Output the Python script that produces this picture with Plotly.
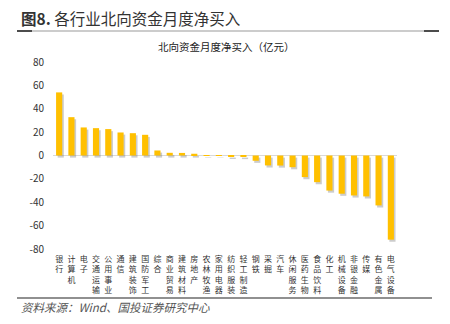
import plotly.graph_objects as go

categories = ["银行", "计算机", "电子", "交通运输", "公用事业", "通信", "建筑装饰", "国防军工",
              "综合", "商业贸易", "建筑材料", "房地产", "农林牧渔", "家用电器", "纺织服装", "轻工制造",
              "钢铁", "采掘", "汽车", "休闲服务", "医药生物", "食品饮料", "化工", "机械设备",
              "非银金融", "传媒", "有色金属", "电气设备"]
values = [54.0, 32.8, 24.0, 23.4, 22.6, 19.7, 19.1, 17.7,
          4.3, 2.3, 2.2, 1.5, 0.4, 0.3, -1.2, -1.3,
          -4.5, -8.5, -8.6, -10.0, -18.5, -22.8, -30.0, -32.7,
          -34.2, -35.0, -42.7, -72.0]
y_ticks = [80, 60, 40, 20, 0, -20, -40, -60, -80]

FONT = "Noto Sans CJK SC, Noto Sans, sans-serif"
x_idx = list(range(len(categories)))
tick_text = ["<br>".join(list(c)) for c in categories]

# plot area in pixels
L, R, T, B = 53, 397, 62, 249
W, H = 450, 324
def px(x):
    return (x - L) / (R - L)
def py(y):
    return (B - y) / (B - T)

fig = go.Figure()
# shadow
fig.add_trace(go.Bar(x=x_idx, y=values, base=[-1.8] * len(values), width=0.5, offset=-0.12,
                     marker=dict(color="rgba(110,110,110,0.35)", line=dict(width=0)),
                     hoverinfo="skip", showlegend=False))
fig.add_trace(go.Bar(x=x_idx, y=values, width=0.5, offset=-0.25,
                     marker=dict(color="#FFC000", line=dict(width=0)), showlegend=False))

annotations = [
    dict(text="<b>图8.</b> 各行业北向资金月度净买入", xref="paper", yref="paper",
         x=px(19), y=py(18), xanchor="left", yanchor="middle", showarrow=False,
         font=dict(size=15.5, color="#333333", family=FONT)),
    dict(text="北向资金月度净买入（亿元）", xref="paper", yref="paper",
         x=px(226), y=py(47), xanchor="center", yanchor="middle", showarrow=False,
         font=dict(size=10.5, color="#222222", family=FONT)),
    dict(text="<i>资料来源：Wind、国投证券研究中心</i>", xref="paper", yref="paper",
         x=px(19), y=py(307), xanchor="left", yanchor="middle", showarrow=False,
         font=dict(size=11.5, color="#555555", family=FONT)),
]

fig.update_layout(
    width=W, height=H, barmode="overlay",
    margin=dict(l=L, r=W - R, t=T, b=H - B),
    plot_bgcolor="white", paper_bgcolor="white",
    font=dict(family=FONT, color="#333333"),
    xaxis=dict(range=[-0.5, len(categories) - 0.5], tickmode="array", tickvals=x_idx,
               ticktext=tick_text, tickangle=0, showgrid=False, showline=False, zeroline=False,
               ticks="", ticklabelstandoff=4, tickfont=dict(size=8, color="#333333"), fixedrange=True),
    yaxis=dict(range=[-80, 80], tickmode="array", tickvals=y_ticks,
               ticktext=[str(v) for v in y_ticks], showgrid=False, showline=False,
               zeroline=True, zerolinecolor="#d9d9d9", zerolinewidth=1,
               ticks="", ticklabelstandoff=8, tickfont=dict(size=10, color="#333333"), fixedrange=True),
    annotations=annotations,
    shapes=[
        dict(type="line", xref="paper", yref="paper", x0=px(17), x1=px(439), y0=py(31), y1=py(31),
             line=dict(color="#999999", width=1)),
        dict(type="line", xref="paper", yref="paper", x0=px(17), x1=px(32), y0=py(31), y1=py(31),
             line=dict(color="#222222", width=1.5)),
        dict(type="line", xref="paper", yref="paper", x0=px(424), x1=px(439), y0=py(31), y1=py(31),
             line=dict(color="#222222", width=1.5)),
        dict(type="line", xref="paper", yref="paper", x0=px(17), x1=px(432), y0=py(298), y1=py(298),
             line=dict(color="#222222", width=1.2)),
    ],
)

fig.write_html("out.html")
